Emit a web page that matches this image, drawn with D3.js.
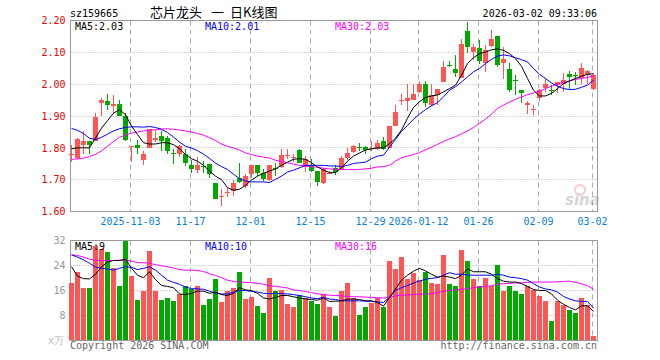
<!DOCTYPE html>
<html>
<head>
<meta charset="utf-8">
<script src="https://cdn.jsdelivr.net/npm/d3@7"></script>
<style>
  body { margin: 0; background: #fff; }
  svg { display: block; }
  text { font-family: "DejaVu Sans Mono", monospace; font-size: 10px; }
</style>
</head>
<body>
<div id="chart"></div>
<script>
// daily K line, 88 trading days 2025-10-20 .. 2026-03-02
var open  = [1.778,1.767,1.810,1.821,1.823,1.940,1.948,1.930,1.938,1.900,1.805,1.810,1.761,1.800,1.826,1.838,1.830,1.783,1.780,1.782,
             1.747,1.731,1.744,1.750,1.688,1.648,1.658,1.665,1.704,1.680,1.717,1.745,1.720,1.700,1.738,1.740,1.775,1.770,1.793,1.740,
             1.745,1.726,1.689,1.720,1.737,1.734,1.768,1.787,1.804,1.804,1.797,1.797,1.820,1.799,1.869,1.948,1.947,1.950,1.976,2.002,
             1.934,1.966,2.007,2.060,2.049,2.018,2.167,2.101,2.115,2.067,2.119,2.151,2.065,2.049,2.012,1.983,1.933,1.918,1.958,1.988,
             1.982,1.998,2.000,2.031,2.030,2.020,2.028,1.984]
var high  = [1.810,1.830,1.854,1.821,1.909,1.958,1.970,1.967,1.949,1.910,1.807,1.826,1.790,1.860,1.857,1.854,1.838,1.795,1.810,1.795,
             1.763,1.772,1.758,1.750,1.689,1.670,1.675,1.700,1.751,1.717,1.745,1.745,1.732,1.745,1.751,1.795,1.795,1.782,1.795,1.774,
             1.764,1.726,1.737,1.727,1.745,1.774,1.800,1.810,1.815,1.807,1.820,1.826,1.834,1.869,1.934,1.969,2.000,2.000,2.010,2.009,
             2.000,1.986,2.073,2.073,2.093,2.143,2.195,2.127,2.138,2.122,2.169,2.151,2.117,2.065,2.028,1.983,1.948,1.934,1.986,2.018,
             1.997,2.007,2.035,2.042,2.039,2.067,2.044,2.033]
var low   = [1.755,1.765,1.780,1.780,1.820,1.899,1.920,1.907,1.900,1.820,1.757,1.780,1.745,1.800,1.818,1.790,1.780,1.750,1.770,1.743,
             1.722,1.722,1.722,1.706,1.638,1.618,1.647,1.648,1.689,1.675,1.706,1.710,1.696,1.696,1.710,1.737,1.764,1.755,1.751,1.724,
             1.724,1.680,1.685,1.717,1.716,1.732,1.763,1.784,1.789,1.780,1.790,1.794,1.792,1.799,1.869,1.934,1.917,1.950,1.971,1.927,
             1.931,1.934,2.007,2.054,2.023,2.018,2.098,2.075,2.063,2.039,2.117,2.054,2.015,1.976,1.966,1.942,1.906,1.902,1.948,1.976,
             1.966,1.971,1.976,1.986,1.997,2.000,2.000,1.981]
var close = [1.781,1.829,1.823,1.810,1.898,1.949,1.936,1.938,1.900,1.826,1.807,1.798,1.782,1.858,1.830,1.820,1.790,1.781,1.807,1.753,
             1.733,1.747,1.742,1.717,1.640,1.650,1.661,1.689,1.693,1.711,1.745,1.720,1.703,1.745,1.737,1.779,1.777,1.772,1.751,1.766,
             1.726,1.693,1.732,1.722,1.724,1.768,1.784,1.807,1.802,1.793,1.800,1.814,1.795,1.869,1.914,1.951,1.957,1.969,2.002,1.940,
             1.966,1.986,2.054,2.058,2.036,2.127,2.117,2.117,2.073,2.106,2.143,2.059,2.080,1.981,2.011,1.971,1.942,1.922,1.981,2.000,
             1.981,2.007,2.012,2.021,2.029,2.052,2.042,2.028]
var ma5   = [1.797,1.800,1.800,1.800,1.831,1.862,1.885,1.909,1.920,1.904,1.868,1.842,1.816,1.812,1.812,1.816,1.816,1.810,1.797,1.779,
             1.766,1.758,1.745,1.727,1.711,1.700,1.675,1.667,1.670,1.682,1.699,1.711,1.720,1.727,1.734,1.745,1.755,1.764,1.766,1.764,
             1.753,1.740,1.730,1.722,1.722,1.737,1.758,1.774,1.784,1.793,1.797,1.800,1.800,1.813,1.830,1.856,1.893,1.927,1.945,1.958,
             1.963,1.966,1.976,1.986,1.997,2.028,2.065,2.083,2.096,2.101,2.108,2.111,2.106,2.096,2.080,2.056,2.018,1.981,1.963,1.963,
             1.971,1.986,2.002,2.010,2.018,2.025,2.031,2.033]
var ma10  = [1.861,1.855,1.845,1.830,1.826,1.833,1.843,1.853,1.860,1.864,1.866,1.866,1.865,1.867,1.864,1.858,1.848,1.834,1.818,1.805,
             1.799,1.791,1.780,1.767,1.752,1.741,1.732,1.717,1.703,1.696,1.693,1.693,1.693,1.691,1.701,1.711,1.724,1.730,1.737,1.745,
             1.745,1.745,1.745,1.743,1.743,1.741,1.745,1.751,1.753,1.755,1.766,1.774,1.777,1.802,1.826,1.852,1.870,1.890,1.906,1.920,
             1.932,1.942,1.960,1.981,1.992,2.007,2.023,2.039,2.049,2.065,2.078,2.088,2.092,2.089,2.083,2.077,2.070,2.049,2.031,2.018,
             2.004,1.994,1.986,1.983,1.984,1.990,1.997,2.013]
var ma30  = [1.764,1.765,1.768,1.772,1.780,1.790,1.805,1.820,1.833,1.840,1.846,1.850,1.853,1.855,1.857,1.859,1.860,1.858,1.856,1.853,
             1.850,1.845,1.840,1.832,1.823,1.812,1.805,1.800,1.793,1.784,1.779,1.774,1.771,1.768,1.761,1.757,1.753,1.749,1.745,1.743,
             1.741,1.739,1.736,1.734,1.733,1.732,1.732,1.732,1.732,1.734,1.736,1.740,1.741,1.745,1.758,1.769,1.774,1.779,1.785,1.794,
             1.802,1.811,1.820,1.828,1.835,1.844,1.853,1.864,1.877,1.890,1.906,1.924,1.934,1.944,1.952,1.960,1.967,1.972,1.978,1.986,
             1.994,2.000,2.006,2.010,2.015,2.018,2.021,2.027]

// volume, unit 万
var volume  = [18.4,22.0,16.8,16.8,30.4,29.4,28.2,23.3,17.6,31.8,20.6,13.1,16.0,28.5,16.0,13.1,13.7,12.7,14.9,17.3,
               16.5,17.6,11.4,13.4,19.6,12.2,16.0,16.8,22.0,13.4,14.0,11.1,8.8,19.9,16.0,16.3,11.8,10.8,14.7,13.5,
               12.5,11.8,14.8,10.6,7.8,15.8,18.4,13.6,8.2,10.6,11.9,13.5,10.8,25.5,22.9,26.8,19.6,21.7,19.3,22.0,
               18.4,18.0,27.4,18.0,17.4,29.1,25.5,19.6,17.6,20.0,17.6,24.2,16.0,17.3,15.8,15.0,17.6,16.2,14.1,12.7,
               6.2,12.5,11.5,9.8,8.9,13.7,11.3,1.6]
var volMa5  = [23.6,20.6,19.8,19.7,21.2,23.6,25.1,25.6,25.6,26.0,23.1,20.9,20.1,22.0,19.5,17.6,17.3,16.9,14.9,14.7,
               15.1,15.8,15.8,15.1,15.5,14.7,14.4,15.1,16.9,16.2,16.0,15.1,13.6,13.3,13.8,14.4,14.4,14.0,13.6,13.3,
               13.1,12.9,13.6,12.5,12.6,12.7,13.2,13.3,13.1,12.7,12.7,12.2,11.0,13.8,16.5,19.3,20.9,22.2,23.1,22.3,
               21.2,20.3,20.6,20.3,19.8,20.9,22.9,22.0,22.0,22.0,21.2,19.8,19.0,18.7,18.7,18.2,17.3,16.3,16.0,16.0,
               14.9,12.9,11.6,10.6,9.8,11.1,11.1,9.3]
var volMa10 = [27.4,26.7,25.8,24.7,23.5,23.1,22.9,22.5,23.1,23.6,23.4,22.7,23.1,23.6,22.5,20.9,19.3,18.6,18.0,17.1,
               16.6,16.5,16.4,15.8,15.1,14.9,14.9,15.5,16.0,16.0,15.7,15.5,15.1,15.0,15.1,15.0,14.9,14.7,14.4,14.0,
               13.6,13.4,13.8,13.3,13.1,12.7,12.7,12.7,12.7,12.6,12.5,12.3,12.2,13.8,16.0,16.9,17.6,18.4,19.0,19.6,
               19.9,20.1,20.9,21.7,21.2,21.2,21.0,20.9,20.9,20.9,20.9,21.2,20.9,20.3,20.1,19.8,19.3,18.2,17.1,16.5,
               16.2,15.5,14.1,13.3,12.7,12.5,12.5,10.4]
var volMa30 = [27.4,27.2,26.7,26.0,25.7,25.6,25.6,25.6,25.7,25.7,25.4,24.9,24.9,24.7,24.3,23.9,23.6,23.2,22.7,22.5,
               22.5,22.4,22.1,21.4,20.8,20.1,19.3,18.9,18.7,18.6,18.5,18.3,18.0,17.5,17.3,17.1,16.8,16.2,16.0,15.7,
               15.3,15.0,14.7,14.5,14.4,14.3,14.1,14.0,14.0,13.9,13.8,13.7,13.6,13.8,14.3,14.5,14.6,14.7,14.8,14.9,
               15.0,15.3,15.8,16.0,16.2,16.4,16.6,16.9,17.1,17.3,17.5,18.0,18.2,18.3,18.4,18.5,18.6,18.7,18.7,18.7,
               18.7,18.8,18.9,19.0,18.6,18.2,17.5,16.4]

var dateTicks  = [10, 20, 30, 40, 50, 58, 68, 78, 87]
var dateLabels = ["2025-11-03", "11-17", "12-01", "12-15", "12-29", "2026-01-12", "01-26", "02-09", "03-02"]
var priceTicks = [2.2, 2.1, 2.0, 1.9, 1.8, 1.7, 1.6]
var volTicks   = [32, 24, 16, 8]

var width = 660
var height = 360
var upColor = "#ff5555", downColor = "#00a800"
var left = 70.5, right = 597.5

var svg = d3.select("#chart").append("svg").attr("width", width).attr("height", height)

var x = d3.scaleLinear().domain([0, close.length - 1]).range([71, 593])
var y = d3.scaleLinear().domain([1.6, 2.2]).range([211.5, 20.5])
var yv = d3.scaleLinear().domain([0, 32]).range([340.5, 240.5])

function isUp(i) { return close[i] >= open[i] }
var idx = d3.range(close.length)

// ---- header
svg.append("text").attr("x", 70).attr("y", 17).text("sz159665")
var title = svg.append("text").attr("y", 17)
    .style("font-family", "'Noto Sans CJK SC', sans-serif").style("font-size", "13px")
title.append("tspan").attr("x", 150).text("芯片龙头")
title.append("tspan").attr("x", 211).text("一")
title.append("tspan").attr("x", 230).text("日K线图")
svg.append("text").attr("x", 597).attr("y", 17).attr("text-anchor", "end").text("2026-03-02 09:33:06")

// ---- grids for both panels
function panel(top, bottom, scale, ticks) {
    var g = svg.append("g")
    g.selectAll(".hgrid").data(ticks.filter(d => scale(d) > top + 1 && scale(d) < bottom - 1))
        .enter().append("line")
        .attr("x1", left).attr("x2", right)
        .attr("y1", d => Math.round(scale(d) - 0.5) + 0.5).attr("y2", d => Math.round(scale(d) - 0.5) + 0.5)
        .attr("stroke", "#aaa").attr("stroke-dasharray", "1,2")
    g.selectAll(".vgrid").data(dateTicks).enter().append("line")
        .attr("x1", d => x(d) - 0.5).attr("x2", d => x(d) - 0.5)
        .attr("y1", top).attr("y2", bottom)
        .attr("stroke", "#aaa").attr("stroke-dasharray", "5,4")
    g.append("rect").attr("x", left).attr("y", top).attr("width", right - left).attr("height", bottom - top)
        .attr("fill", "none").attr("stroke", "#999")
    return g
}
panel(20.5, 211.5, y, priceTicks)
panel(240.5, 340.5, yv, volTicks)

// ---- axes
var yAxis = svg.append("g").attr("transform", "translate(" + left + ",0)")
    .call(d3.axisLeft(y).tickValues(priceTicks).tickFormat(d3.format(".2f")).tickSize(0).tickPadding(5))
yAxis.select(".domain").remove()
yAxis.selectAll("text").attr("fill", "#ee0000").style("font-family", "'DejaVu Sans Mono', monospace").style("font-size", "10px")

var vAxis = svg.append("g").attr("transform", "translate(" + left + ",0)")
    .call(d3.axisLeft(yv).tickValues(volTicks).tickSize(0).tickPadding(5))
vAxis.select(".domain").remove()
vAxis.selectAll("text").attr("fill", "#999").style("font-family", "'DejaVu Sans Mono', monospace").style("font-size", "10px")

var xAxis = svg.append("g").attr("transform", "translate(-1,211.5)")
    .call(d3.axisBottom(x).tickValues(dateTicks).tickFormat((d, i) => dateLabels[i]).tickSize(0).tickPadding(6))
xAxis.select(".domain").remove()
xAxis.selectAll("text").attr("fill", "#0a7fd6").style("font-family", "'DejaVu Sans Mono', monospace").style("font-size", "10px")

svg.append("text").attr("x", 64).attr("y", 344).attr("text-anchor", "end").attr("fill", "#bbb").text("x万")

// ---- sina watermark
var wm = svg.append("g").attr("opacity", 0.4)
wm.append("circle").attr("cx", 580).attr("cy", 190).attr("r", 5).attr("fill", "none").attr("stroke", "#f08080").attr("stroke-width", 2)
wm.append("text").attr("x", 565).attr("y", 205).style("font-family", "'DejaVu Sans', sans-serif")
    .style("font-size", "15px").style("font-weight", "bold").style("font-style", "italic").attr("fill", "#999").text("sina")

// ---- candles
var candles = svg.append("g").attr("shape-rendering", "crispEdges")
candles.selectAll(".wick").data(idx).enter().append("line")
    .attr("x1", i => x(i) + 0.5).attr("x2", i => x(i) + 0.5)
    .attr("y1", i => y(high[i])).attr("y2", i => y(low[i]))
    .attr("stroke", i => isUp(i) ? upColor : downColor)
candles.selectAll(".body").data(idx).enter().append("rect")
    .attr("x", i => x(i) - 2).attr("width", 5)
    .attr("y", i => y(Math.max(open[i], close[i])))
    .attr("height", i => Math.max(1, Math.abs(y(open[i]) - y(close[i]))))
    .attr("fill", i => isUp(i) ? upColor : downColor)

// ---- volume bars
svg.append("g").attr("shape-rendering", "crispEdges")
    .selectAll("rect").data(idx).enter().append("rect")
    .attr("x", i => x(i) - 2).attr("width", 5)
    .attr("y", i => yv(volume[i])).attr("height", i => 340 - yv(volume[i]))
    .attr("fill", i => isUp(i) ? upColor : downColor)

// ---- moving average lines
function maLine(arr, scale, color) {
    svg.append("path").datum(arr)
        .attr("d", d3.line().x((d, i) => x(i) + 0.5).y(d => scale(d)))
        .attr("fill", "none").attr("stroke", color).attr("stroke-width", 1)
}
maLine(ma30, y, "#ff00ff"); maLine(ma10, y, "#0000ff"); maLine(ma5, y, "#000")
maLine(volMa30, yv, "#ff00ff"); maLine(volMa10, yv, "#0000ff"); maLine(volMa5, yv, "#000")

// ---- legends
var last = close.length - 1
function legend(yy, items) {
    items.forEach(it => {
        svg.append("text").attr("x", it[0]).attr("y", yy).attr("fill", it[2]).text(it[1])
    })
}
legend(30, [[75, "MA5:" + ma5[last].toFixed(2), "#000"], [205, "MA10:" + ma10[last].toFixed(2), "#0000ff"],
            [335, "MA30:" + ma30[last].toFixed(2), "#ff00ff"]])
legend(250, [[75, "MA5:" + volMa5[last].toFixed(0), "#000"], [205, "MA10:" + volMa10[last].toFixed(0), "#0000ff"],
             [335, "MA30:" + volMa30[last].toFixed(0), "#ff00ff"]])

// ---- footer
svg.append("text").attr("x", 70).attr("y", 349).attr("fill", "#666").text("Copyright 2026 SINA.COM")
svg.append("text").attr("x", 597).attr("y", 349).attr("text-anchor", "end").attr("fill", "#666").text("http://finance.sina.com.cn")
</script>
</body>
</html>
